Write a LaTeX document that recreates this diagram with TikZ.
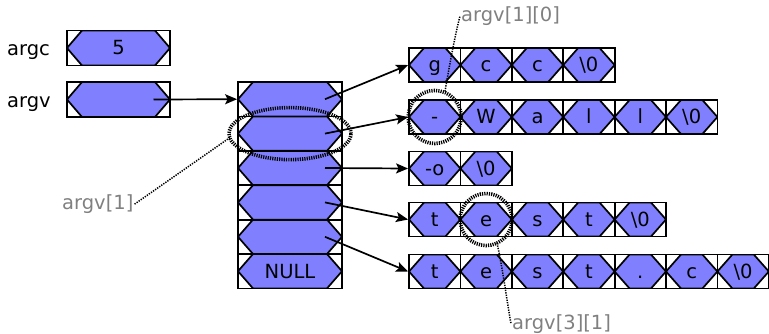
\documentclass[tikz,border=0pt]{standalone}
\usepackage{fontspec}
\setmainfont{DejaVu Sans}
\usetikzlibrary{arrows.meta,calc}
\definecolor{hexfill}{RGB}{128,128,255}
\definecolor{labelgray}{RGB}{128,128,128}
\tikzset{
  hexcell/.style={draw=black, line width=1.8pt, rectangle, inner sep=0pt,
    minimum height=34pt, text height=13.9pt, text depth=0pt,
    font=\fontsize{19.5pt}{23pt}\selectfont,
    path picture={\fill[hexfill, draw=black, line width=1.7pt, line join=miter]
      (path picture bounding box.west)
      -- ([xshift=15pt]path picture bounding box.north west)
      -- ([xshift=-15pt]path picture bounding box.north east)
      -- (path picture bounding box.east)
      -- ([xshift=-15pt]path picture bounding box.south east)
      -- ([xshift=15pt]path picture bounding box.south west) -- cycle;}},
  strcell/.style={hexcell, minimum width=51.4pt},
  arrcell/.style={hexcell, minimum width=104pt, minimum height=34.4pt},
  varbox/.style={hexcell, minimum width=103pt, minimum height=35pt},
  varlbl/.style={inner sep=1pt, anchor=base west, font=\fontsize{19.5pt}{23pt}\selectfont},
  graylbl/.style={inner sep=1pt, anchor=base west, text=labelgray, font=\fontsize{19.5pt}{23pt}\selectfont},
  conn/.style={line width=1.7pt, -{Stealth[length=12pt,width=10pt,inset=2.5pt]}},
  ringdot/.style={line width=3.6pt, dash pattern=on 1.2pt off 1.1pt},
  leader/.style={line width=1.5pt, dash pattern=on 1.3pt off 1.2pt}
}
\begin{document}
\begin{tikzpicture}[x=1pt,y=-1pt]
\useasboundingbox (0,0) rectangle (769,333);

% variables
\node[varlbl] (argclbl) at (6,55) {argc};
\node[varlbl] (argvlbl) at (6,107.5) {argv};
\node[varbox] (argcbox) at (118.5,48) {5};
\node[varbox] (argvbox) at (118.5,99.5) {};

% pointer array
\foreach \i in {1,...,5} {
  \node[arrcell] (a\i) at (290,{82+34.4*(\i-0.5)}) {};
}
\node[arrcell] (a6) at (290,{82+34.4*5.5}) {NULL};

% strings
\foreach \t [count=\j] in {g,c,c,{\textbackslash 0}} {
  \node[strcell] (s1-\j) at ({409+51.4*(\j-0.5)},65) {\t};
}
\foreach \t [count=\j] in {-,W,a,l,l,{\textbackslash 0}} {
  \node[strcell] (s2-\j) at ({409+51.4*(\j-0.5)},117) {\t};
}
\foreach \t [count=\j] in {-o,{\textbackslash 0}} {
  \node[strcell] (s3-\j) at ({409+51.4*(\j-0.5)},168.5) {\t};
}
\foreach \t [count=\j] in {t,e,s,t,{\textbackslash 0}} {
  \node[strcell] (s4-\j) at ({409+51.4*(\j-0.5)},219.5) {\t};
}
\foreach \t [count=\j] in {t,e,s,t,.,c,{\textbackslash 0}} {
  \node[strcell] (s5-\j) at ({409+51.4*(\j-0.5)},271.5) {\t};
}

% arrows
\draw[conn] ([xshift=35pt]argvbox.center) -- (a1.west);
\foreach \i in {1,...,5} {
  \draw[conn] ([xshift=35pt]a\i.center) -- (s\i-1.west);
}

% highlight rings
\draw[ringdot] (a2.center) ellipse [x radius=61pt, y radius=26pt];
\draw[ringdot] (s2-1.center) circle [radius=26.5pt];
\draw[ringdot] (s4-2.center) circle [radius=26pt];

% gray labels and leaders
\node[graylbl] (lblA) at (61,209.5) {argv[1]};
\node[graylbl] (lblB) at (460,21.5) {argv[1][0]};
\node[graylbl] (lblC) at (511,329) {argv[3][1]};
\coordinate (ringA) at (230,137.5);
\coordinate (ringB) at (445,91.5);
\coordinate (ringC) at (497,243);
\draw[leader] (lblA.east) -- (ringA);
\draw[leader] (ringB) .. controls (449,68) and (455,35) .. (lblB.west);
\draw[leader] (ringC) .. controls (503,270) and (507,302) .. (lblC.west);
\end{tikzpicture}
\end{document}
